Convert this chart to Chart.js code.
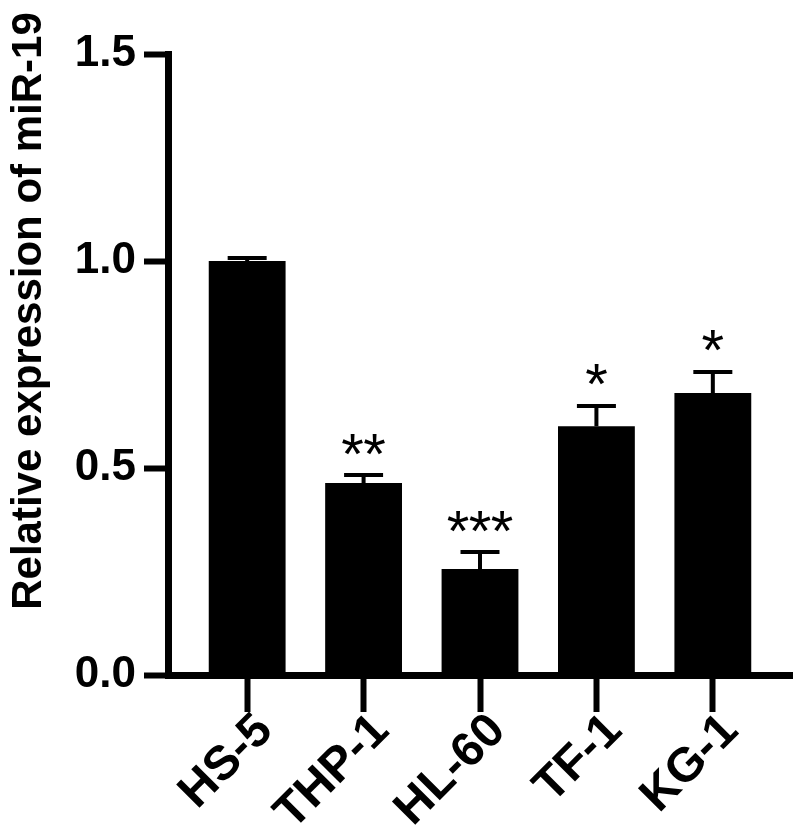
<!DOCTYPE html>
<html>
<head>
<meta charset="utf-8">
<title>Relative expression of miR-19</title>
<script src="https://cdn.jsdelivr.net/npm/chart.js@4.4.0/dist/chart.umd.min.js"></script>
<style>
  html, body { margin: 0; padding: 0; background: #fff; }
  #wrap { width: 800px; height: 838px; }
</style>
</head>
<body>
<div id="wrap"><canvas id="chart"></canvas></div>
<script>
// data
var cellLines = ["HS-5", "THP-1", "HL-60", "TF-1", "KG-1"];
var meanExpr = [1.0, 0.464, 0.256, 0.601, 0.681];
var semExpr = [0.007, 0.019, 0.041, 0.049, 0.051];
var sigMarks = ["", "**", "***", "*", "*"];
var yTicks = [0, 0.5, 1.0, 1.5];
var yTitle = "Relative expression of miR-19";

var FONT = "'Liberation Sans', Arial, sans-serif";

/**
 * Draws the upper error bar and the significance stars above each bar.
 */
var errorBarPlugin = {
  id: "errorBars",
  afterDatasetsDraw: function (chart) {
    var ctx = chart.ctx;
    var yScale = chart.scales.y;
    var meta = chart.getDatasetMeta(0);
    ctx.save();
    ctx.strokeStyle = "#000";
    ctx.fillStyle = "#000";
    ctx.lineWidth = 4;
    meta.data.forEach(function (bar, i) {
      var top = yScale.getPixelForValue(meanExpr[i]);
      var capY = yScale.getPixelForValue(meanExpr[i] + semExpr[i]);
      ctx.beginPath();
      ctx.moveTo(bar.x, top);
      ctx.lineTo(bar.x, capY);
      ctx.moveTo(bar.x - 19.5, capY);
      ctx.lineTo(bar.x + 19.5, capY);
      ctx.stroke();

      var marks = sigMarks[i];
      if (!marks) return;
      ctx.font = "58px " + FONT;
      ctx.textAlign = "center";
      ctx.textBaseline = "alphabetic";
      var m = ctx.measureText("*");
      var center = capY - 31;
      var baseY = center + (m.actualBoundingBoxAscent - m.actualBoundingBoxDescent) / 2;
      var n = marks.length;
      for (var k = 0; k < n; k++) {
        ctx.fillText("*", bar.x + (k - (n - 1) / 2) * 22, baseY);
      }
    });
    ctx.restore();
  },
};

/**
 * Draws the rotated y axis title.
 */
var yTitlePlugin = {
  id: "yTitle",
  afterDraw: function (chart) {
    var ctx = chart.ctx;
    ctx.save();
    ctx.translate(29, 311);
    ctx.rotate(-Math.PI / 2);
    ctx.font = "bold 42px " + FONT;
    ctx.fillStyle = "#000";
    ctx.textAlign = "center";
    ctx.textBaseline = "middle";
    ctx.fillText(yTitle, 0, 0);
    ctx.restore();
  },
};

var ctx = document.getElementById("chart").getContext("2d");
new Chart(ctx, {
  type: "bar",
  data: {
    datasets: [
      {
        data: meanExpr.map(function (v, i) {
          return { x: i, y: v };
        }),
        backgroundColor: "#000",
        borderWidth: 0,
        barPercentage: 0.66,
        categoryPercentage: 1,
      },
    ],
  },
  options: {
    responsive: true,
    maintainAspectRatio: false,
    animation: false,
    layout: { padding: { left: 0, top: 54, right: 8, bottom: 0 } },
    plugins: {
      legend: { display: false },
      tooltip: { enabled: false },
    },
    scales: {
      x: {
        type: "linear",
        min: -0.68,
        max: 4.68,
        offset: false,
        afterBuildTicks: function (scale) {
          scale.ticks = cellLines.map(function (c, i) {
            return { value: i };
          });
        },
        afterFit: function (scale) {
          scale.height = 163;
        },
        grid: {
          display: true,
          offset: false,
          drawOnChartArea: false,
          drawTicks: true,
          tickLength: 37,
          tickWidth: 6,
          tickColor: "#000",
        },
        border: { display: true, color: "#000", width: 7 },
        ticks: {
          autoSkip: false,
          minRotation: 45,
          maxRotation: 45,
          padding: -9,
          labelOffset: 18,
          color: "#000",
          font: { family: FONT, size: 48, weight: "bold" },
          callback: function (v) {
            return cellLines[v];
          },
        },
      },
      y: {
        min: 0,
        max: 1.5,
        afterBuildTicks: function (scale) {
          scale.ticks = yTicks.map(function (v) {
            return { value: v };
          });
        },
        afterFit: function (scale) {
          scale.width = 168;
        },
        grid: {
          display: true,
          drawOnChartArea: false,
          drawTicks: true,
          tickLength: 24,
          tickWidth: 6,
          tickColor: "#000",
        },
        border: { display: true, color: "#000", width: 7 },
        ticks: {
          padding: 8,
          color: "#000",
          font: { family: FONT, size: 44, weight: "bold" },
          callback: function (v) {
            return v.toFixed(1);
          },
        },
      },
    },
  },
  plugins: [errorBarPlugin, yTitlePlugin],
});
</script>
</body>
</html>
